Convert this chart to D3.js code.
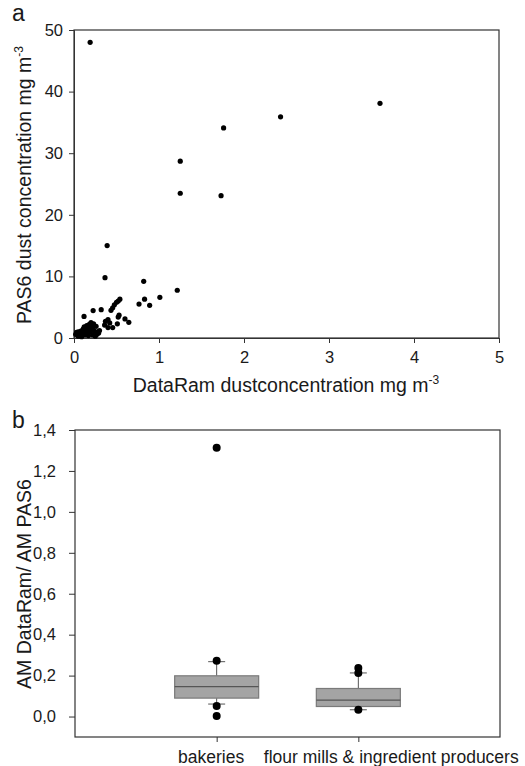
<!DOCTYPE html>
<html><head><meta charset="utf-8">
<script src="https://cdn.jsdelivr.net/npm/d3@7"></script>
<style>
body{margin:0;background:#fff;}
text{font-family:"Liberation Sans",Arial,sans-serif;fill:#1a1a1a;}
</style></head>
<body><svg id="c" width="525" height="766"></svg>
<script>
// Panel a: DataRam (x) vs PAS6 (y), mg m-3
const scatterX = [0.19,3.60,2.43,1.76,1.25,1.25,1.73,0.39,0.365,0.82,1.215,1.01,0.83,0.765,0.89,
 0.54,0.52,0.50,0.475,0.455,0.435,0.32,0.225,0.118,0.52,0.60,0.645,0.40,0.37,0.42,0.51,0.455,0.40,0.53,0.36,
 0.02,0.03,0.04,0.05,0.06,0.07,0.08,0.08,0.09,0.10,0.10,0.11,0.12,0.12,0.13,0.14,0.14,0.15,0.16,0.16,0.17,0.18,0.18,0.19,0.20,0.20,0.21,0.22,0.22,0.23,0.24,0.25,0.26,0.27,0.28,0.30,0.29,0.05,0.09,0.13,0.17];
const scatterY = [48.0,38.1,35.9,34.1,28.7,23.5,23.1,15.0,9.8,9.2,7.75,6.6,6.3,5.5,5.3,
 6.3,6.0,5.8,5.4,4.9,4.5,4.6,4.45,3.5,3.4,3.1,2.55,3.0,2.7,2.45,2.3,1.7,1.7,3.7,2.1,
 0.6,0.9,0.7,1.0,0.5,0.8,1.1,0.4,0.9,1.2,0.6,1.5,0.8,1.8,1.1,1.4,0.7,2.0,1.2,0.9,1.6,1.3,2.2,1.0,2.5,1.7,2.0,1.4,0.5,2.3,1.1,0.3,1.9,0.6,1.0,1.2,0.8,0.3,0.2,0.5,0.4];
const xTicksA = [0,1,2,3,4,5];
const yTicksA = [0,10,20,30,40,50];

// Panel b: AM DataRam / AM PAS6 box plots
const categories = ["bakeries","flour mills & ingredient producers"];
const boxQ1 = [0.090,0.049];
const boxMedian = [0.146,0.080];
const boxQ3 = [0.199,0.137];
const whiskerLow = [0.061,0.033];
const whiskerHigh = [0.268,0.213];
const outliers = [[1.313,0.273,0.052,0.003],[0.237,0.213,0.033]];
const yTicksB = [0,0.2,0.4,0.6,0.8,1.0,1.2,1.4];

const svg = d3.select("#c");
const fs = 16.5, ft = 19.5, fc = 17.5;

// ---------- Panel a ----------
const xA = d3.scaleLinear().domain([0,5]).range([74,499]);
const yA = d3.scaleLinear().domain([0,50]).range([338,30]);
const gA = svg.append("g");
gA.append("rect").attr("x",74).attr("y",30).attr("width",425).attr("height",308)
  .attr("fill","none").attr("stroke","#333").attr("stroke-width",1.2);
const axA = gA.append("g").attr("transform","translate(0,338)")
  .call(d3.axisBottom(xA).tickValues(xTicksA).tickSize(5).tickPadding(8).tickFormat(d3.format("d")));
const ayA = gA.append("g").attr("transform","translate(74,0)")
  .call(d3.axisLeft(yA).tickValues(yTicksA).tickSize(5).tickPadding(6).tickFormat(d3.format("d")));
[axA,ayA].forEach(a=>{a.select(".domain").attr("stroke","#333");
  a.selectAll(".tick line").attr("stroke","#333");
  a.selectAll("text").attr("font-size",fs).attr("font-family","Liberation Sans, Arial").attr("fill","#1a1a1a");});
gA.selectAll("circle.pt").data(scatterX.map((x,i)=>[x,scatterY[i]])).join("circle")
  .attr("class","pt").attr("cx",d=>xA(d[0])).attr("cy",d=>yA(d[1])).attr("r",2.6).attr("fill","#000");
const xl = gA.append("text").attr("x",286).attr("y",392).attr("text-anchor","middle").attr("font-size",ft);
xl.append("tspan").text("DataRam dustconcentration mg m");
xl.append("tspan").attr("font-size",12).attr("dy",-8).text("-3");
const yl = gA.append("text").attr("transform","translate(31,185) rotate(-90)").attr("text-anchor","middle").attr("font-size",ft);
yl.append("tspan").text("PAS6 dust concentration mg m");
yl.append("tspan").attr("font-size",12).attr("dy",-8).text("-3");
gA.append("text").attr("x",12).attr("y",21).attr("font-size",23).text("a");

// ---------- Panel b ----------
const xB = d3.scalePoint().domain(categories).range([75,500]).padding(1);
const yB = d3.scaleLinear().domain([-0.1,1.4]).range([737,430]);
const gB = svg.append("g");
gB.append("rect").attr("x",75).attr("y",430).attr("width",425).attr("height",307)
  .attr("fill","none").attr("stroke","#333").attr("stroke-width",1.2);
const axB = gB.append("g").attr("transform","translate(0,737)")
  .call(d3.axisBottom(xB).tickSize(5).tickPadding(9));
const ayB = gB.append("g").attr("transform","translate(75,0)")
  .call(d3.axisLeft(yB).tickValues(yTicksB).tickSize(6).tickPadding(13)
    .tickFormat(d=>d3.format(".1f")(d).replace(".",",")));
[axB,ayB].forEach(a=>{a.select(".domain").attr("stroke","none");
  a.selectAll(".tick line").attr("stroke","#333");
  a.selectAll("text").attr("font-size",fs).attr("font-family","Liberation Sans, Arial").attr("fill","#1a1a1a");});
// category labels: offset as in the original layout
axB.selectAll(".tick text").attr("font-size",fc)
  .attr("text-anchor",(d,i)=>i===0?"end":"start")
  .attr("x",(d,i)=>i===0?27:-95);
const bw = 84, cap = 17;
categories.forEach((c,i)=>{
  const cx = xB(c);
  const g = gB.append("g");
  g.append("line").attr("x1",cx).attr("x2",cx).attr("y1",yB(boxQ3[i])).attr("y2",yB(whiskerHigh[i])).attr("stroke","#555");
  g.append("line").attr("x1",cx).attr("x2",cx).attr("y1",yB(boxQ1[i])).attr("y2",yB(whiskerLow[i])).attr("stroke","#555");
  g.append("line").attr("x1",cx-cap/2).attr("x2",cx+cap/2).attr("y1",yB(whiskerHigh[i])).attr("y2",yB(whiskerHigh[i])).attr("stroke","#555");
  g.append("line").attr("x1",cx-cap/2).attr("x2",cx+cap/2).attr("y1",yB(whiskerLow[i])).attr("y2",yB(whiskerLow[i])).attr("stroke","#555");
  g.append("rect").attr("x",cx-bw/2).attr("width",bw).attr("y",yB(boxQ3[i])).attr("height",yB(boxQ1[i])-yB(boxQ3[i]))
    .attr("fill","#a4a4a4").attr("stroke","#7a7a7a").attr("stroke-width",1.2);
  g.append("line").attr("x1",cx-bw/2).attr("x2",cx+bw/2).attr("y1",yB(boxMedian[i])).attr("y2",yB(boxMedian[i])).attr("stroke","#555").attr("stroke-width",1.2);
  g.selectAll("circle").data(outliers[i]).join("circle").attr("cx",cx).attr("cy",d=>yB(d)).attr("r",4).attr("fill","#000");
});
gB.append("text").attr("transform","translate(31,584) rotate(-90)").attr("text-anchor","middle").attr("font-size",ft)
  .text("AM DataRam/ AM PAS6");
gB.append("text").attr("x",12).attr("y",428).attr("font-size",23).text("b");
</script></body></html>
